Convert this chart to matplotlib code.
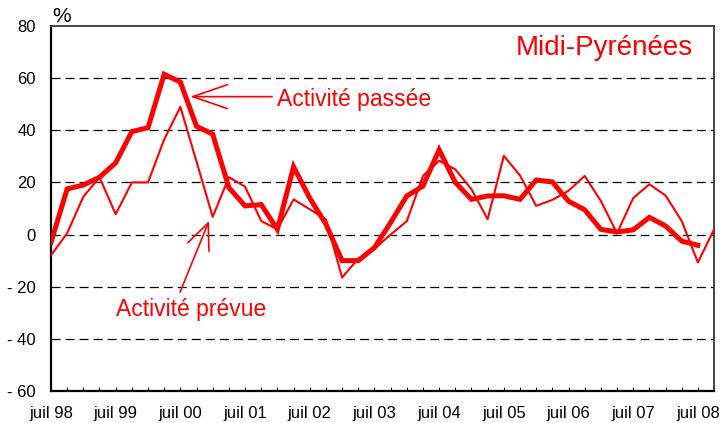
import numpy as np
import matplotlib
matplotlib.use('Agg')
import matplotlib.pyplot as plt

plt.rcParams['font.family'] = ['Liberation Sans', 'DejaVu Sans']
plt.rcParams['lines.scale_dashes'] = False

# quarterly series, juil 98 -> oct 08
passee = [-3, 17.5, 19, 22, 27.5, 39.5, 41, 61.5, 58.5, 41.5, 38.5, 18, 11, 11.5, 2,
          26, 14, 4, -10, -10, -5, 4.6, 14.8, 18.6, 32.5, 20, 13.5, 14.8, 14.9, 13.5,
          20.9, 20.2, 12.8, 9.5, 2, 1, 1.8, 6.6, 3.3, -2.5, -4.1]
prevue = [-8, 0.5, 14.5, 22, 7.8, 20, 20, 36.5, 49, 28, 6.8, 22, 18.4, 5.2, 2,
          13.5, 9.7, 5.8, -16.5, -9.2, -5.5, 0, 5.1, 22.5, 28.3, 25, 17.4, 5.9, 30.2, 22.7,
          11, 13.3, 16.8, 22.5, 12.9, 0.5, 14, 19.3, 15, 5.2, -10.7, 2]
xlabels = ['juil 98', 'juil 99', 'juil 00', 'juil 01', 'juil 02', 'juil 03',
           'juil 04', 'juil 05', 'juil 06', 'juil 07', 'juil 08']
yticks = [-60, -40, -20, 0, 20, 40, 60, 80]

red = '#ff0000'

fig = plt.figure(figsize=(7.22, 4.23), dpi=100)
ax = fig.add_axes([0.0706, 0.0757, 0.9184, 0.8628])

ax.plot(np.arange(len(prevue)), prevue, color=red, lw=1.5, zorder=3)
ax.plot(np.arange(len(passee)), passee, color=red, lw=3.6, zorder=4,
        solid_joinstyle='miter')

ax.set_xlim(0, 41)
ax.set_ylim(-60, 80)

for y in yticks[1:-1]:
    ax.axhline(y, color='black', lw=0.9, ls=(0, (6.5, 3.6)), zorder=1)

ax.set_yticks(yticks)
ax.set_yticklabels([f'- {-v}' if v < 0 else str(v) for v in yticks])
ax.tick_params(axis='y', length=0, pad=11, labelsize=12)

ax.set_xticks(np.arange(0, 42), minor=True)
ax.set_xticks(np.arange(0, 41, 4))
ax.set_xticklabels(xlabels)
ax.tick_params(axis='x', which='both', direction='in', length=3, width=0.8,
               pad=11, labelsize=12)

for s in ['left', 'bottom']:
    ax.spines[s].set_linewidth(1.6)
    ax.spines[s].set_color('black')
for s in ['top', 'right']:
    ax.spines[s].set_linewidth(1.4)
    ax.spines[s].set_color('#444444')

ax.text(0.0166, 1.011, '%', transform=ax.transAxes, ha='center', va='baseline',
        fontsize=15)
ax.text(0.968, 0.9205, 'Midi-Pyrénées', transform=ax.transAxes, ha='right',
        va='baseline', fontsize=20, color=red)

ax.text(14.0, 49.3, 'Activité passée', ha='left', va='baseline', fontsize=16.5,
        color=red)
ax.annotate('', xy=(8.6, 52.9), xytext=(13.67, 52.9),
            arrowprops=dict(arrowstyle='->,head_length=25,head_width=8.6',
                            mutation_scale=1, color=red, lw=1.2,
                            shrinkA=0, shrinkB=0))

ax.text(8.69, -31.1, 'Activité prévue', ha='center', va='baseline', fontsize=16.5,
        color=red)
ax.annotate('', xy=(9.77, 5.2), xytext=(7.98, -22.1),
            arrowprops=dict(arrowstyle='->,head_length=18.7,head_width=8.2',
                            mutation_scale=1, color=red, lw=1.2,
                            shrinkA=0, shrinkB=0))

fig.savefig('out.png', dpi=100)
